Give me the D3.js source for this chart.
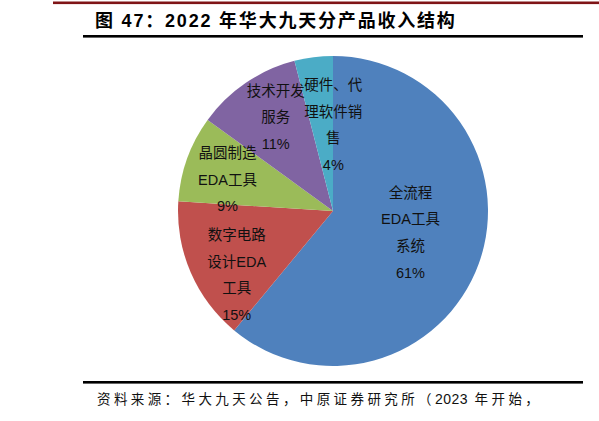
<!DOCTYPE html>
<html><head><meta charset="utf-8">
<script src="https://cdn.jsdelivr.net/npm/d3@7/dist/d3.min.js"></script>
<style>
body{margin:0;background:#fff;}
svg{display:block;}
</style></head>
<body>
<svg id="c" width="599" height="421"></svg>
<script>
// ---- data ----
const titleText = "图 47：2022 年华大九天分产品收入结构";
const sourceText = "资料来源：华大九天公告，中原证券研究所（2023 年开始，";
const categories = ["全流程EDA工具系统", "数字电路设计EDA工具", "晶圆制造EDA工具", "技术开发服务", "硬件、代理软件销售"];
const categoryLines = [["全流程","EDA工具","系统"], ["数字电路","设计EDA","工具"], ["晶圆制造","EDA工具"], ["技术开发","服务"], ["硬件、代","理软件销","售"]];
const values = [61, 15, 9, 11, 4];
const colors = ["#4F81BD", "#C0504D", "#9BBB59", "#8064A2", "#4BACC6"];

// ---- layout ----
const svg = d3.select("#c");
const cx = 333, cy = 211, R = 155;
const labelR = R * 0.6;
const labelNudge = [[-10,-10],[-11,27],[-18,0],[-5,-17],[12,6]];
const lineH = 26.7;
const fontStack = "'Liberation Sans', Arial, 'Noto Sans CJK SC', sans-serif";

// decorative rules
svg.append("rect").attr("x",53).attr("y",1.5).attr("width",546).attr("height",2.6).attr("fill","#7F1416");
svg.append("rect").attr("x",83).attr("y",35).attr("width",500).attr("height",2.6).attr("fill","#000");
svg.append("rect").attr("x",83).attr("y",381).attr("width",500).attr("height",2.6).attr("fill","#000");

svg.append("text").attr("x",95).attr("y",27)
  .attr("font-family",fontStack).attr("font-weight","bold").attr("font-size",18)
  .attr("letter-spacing",1.8).attr("fill","#000").text(titleText);

// footer: CJK spaced, digits normal
const segs = sourceText.match(/[0-9]+|[^0-9]+/g);
const foot = svg.append("text").attr("x",97).attr("y",404)
  .attr("font-family","'Noto Sans CJK SC', sans-serif").attr("font-size",13.5).attr("fill","#111");
foot.selectAll("tspan").data(segs).join("tspan")
  .attr("letter-spacing",s=>/^[0-9]+$/.test(s)?0.5:3.4)
  .attr("font-family",s=>/^[0-9]+$/.test(s)?"'Liberation Sans', sans-serif":null)
  .attr("font-size",s=>/^[0-9]+$/.test(s)?14:null)
  .text(s=>s);

const pie = d3.pie().sort(null).value(d => d).startAngle(0).endAngle(2*Math.PI);
const arcs = pie(values);
const arc = d3.arc().innerRadius(0).outerRadius(R);
const labelArc = d3.arc().innerRadius(labelR).outerRadius(labelR);

const g = svg.append("g").attr("transform",`translate(${cx},${cy})`);
g.selectAll("path.slice").data(arcs).join("path")
  .attr("class","slice").attr("d",arc).attr("fill",(d,i)=>colors[i]);

const lab = g.selectAll("g.lab").data(arcs).join("g").attr("class","lab")
  .attr("transform",(d,i)=>{const c=labelArc.centroid(d);return `translate(${c[0]+labelNudge[i][0]},${c[1]+labelNudge[i][1]})`;});

lab.each(function(d,i){
  const lines = categoryLines[i].concat([d3.format(".0f")(values[i])+"%"]);
  const n = lines.length;
  d3.select(this).selectAll("text").data(lines).join("text")
    .attr("x",0).attr("y",(t,j)=>(j-(n-1)/2)*lineH)
    .attr("dy","0.36em").attr("text-anchor","middle")
    .attr("font-family",fontStack).attr("font-size",14.5).attr("fill","#111")
    .text(t=>t);
});
</script>
</body></html>
